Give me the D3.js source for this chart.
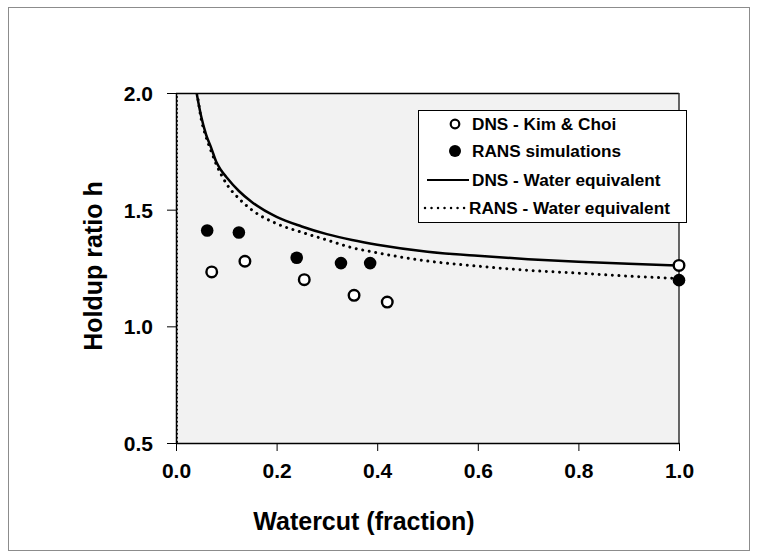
<!DOCTYPE html>
<html>
<head>
<meta charset="utf-8">
<script src="https://cdn.jsdelivr.net/npm/d3@7"></script>
<style>
  html, body { margin: 0; padding: 0; background: #ffffff; }
  svg { display: block; }
  text { font-family: "Liberation Sans", Arial, Helvetica, sans-serif; font-weight: bold; fill: #000; }
</style>
</head>
<body>
<svg id="chart" width="758" height="558"></svg>
<script>
// ---- data ----
const dnsKimChoiX = [0.071, 0.137, 0.255, 0.354, 0.420, 1.0];
const dnsKimChoiH = [1.233, 1.279, 1.200, 1.133, 1.104, 1.261];

const ransSimX = [0.062, 0.125, 0.240, 0.328, 0.386, 1.0];
const ransSimH = [1.411, 1.402, 1.294, 1.271, 1.271, 1.198];

const dnsEqX = [0.041, 0.05, 0.06, 0.07, 0.08, 0.09, 0.10, 0.125, 0.15, 0.2, 0.25, 0.3, 0.35, 0.4, 0.5, 0.6, 0.7, 0.8, 0.9, 1.0];
const dnsEqH = [2.00, 1.90, 1.82, 1.765, 1.705, 1.668, 1.64, 1.58, 1.534, 1.469, 1.428, 1.395, 1.37, 1.35, 1.32, 1.302, 1.288, 1.277, 1.268, 1.261];

const ransEqX = [0.042, 0.05, 0.06, 0.07, 0.08, 0.09, 0.10, 0.125, 0.15, 0.2, 0.25, 0.3, 0.35, 0.4, 0.5, 0.6, 0.7, 0.8, 0.9, 1.0];
const ransEqH = [2.00, 1.89, 1.81, 1.75, 1.695, 1.65, 1.612, 1.548, 1.50, 1.44, 1.403, 1.37, 1.337, 1.315, 1.28, 1.258, 1.24, 1.228, 1.215, 1.205];

const xTicks = [0.0, 0.2, 0.4, 0.6, 0.8, 1.0];
const yTicks = [0.5, 1.0, 1.5, 2.0];

const legendLabels = ["DNS - Kim & Choi", "RANS simulations", "DNS - Water equivalent", "RANS - Water equivalent"];
const xTitle = "Watercut (fraction)";
const yTitle = "Holdup ratio h";

// ---- layout ----
const svg = d3.select("#chart");
const plot = { left: 176, right: 679, top: 93, bottom: 443 };

const x = d3.scaleLinear().domain([0, 1]).range([plot.left, plot.right]);
const y = d3.scaleLinear().domain([0.5, 2.0]).range([plot.bottom, plot.top]);

// outer frame
svg.append("rect").attr("x", 8.5).attr("y", 7.5).attr("width", 741).attr("height", 543)
  .attr("fill", "#fff").attr("stroke", "#8c8c8c").attr("stroke-width", 1);

// plot background
svg.append("rect").attr("x", plot.left).attr("y", plot.top)
  .attr("width", plot.right - plot.left).attr("height", plot.bottom - plot.top)
  .attr("fill", "#f2f2f2");

// clip
svg.append("clipPath").attr("id", "clip").append("rect")
  .attr("x", plot.left).attr("y", plot.top)
  .attr("width", plot.right - plot.left).attr("height", plot.bottom - plot.top);

// top and right borders
svg.append("line").attr("x1", plot.left).attr("x2", plot.right).attr("y1", plot.top + 0.5).attr("y2", plot.top + 0.5)
  .attr("stroke", "#000").attr("stroke-width", 1.5);
svg.append("line").attr("x1", plot.right).attr("x2", plot.right).attr("y1", plot.top).attr("y2", plot.bottom)
  .attr("stroke", "#333").attr("stroke-width", 1.5);

// curves
const dnsEq = dnsEqX.map((v, i) => [v, dnsEqH[i]]);
const ransEq = ransEqX.map((v, i) => [v, ransEqH[i]]);
const line = d3.line().x(d => x(d[0])).y(d => y(d[1])).curve(d3.curveMonotoneX);

const curves = svg.append("g").attr("clip-path", "url(#clip)");
// dotted artifact along the left axis (RANS water-equivalent series near x = 0)
curves.append("line").attr("x1", x(0) + 1).attr("x2", x(0) + 1).attr("y1", y(2.0)).attr("y2", y(0.5))
  .attr("stroke", "#000").attr("stroke-width", 2).attr("stroke-dasharray", "0.01,4").attr("stroke-linecap", "round");
curves.append("path").datum(ransEq).attr("d", line)
  .attr("fill", "none").attr("stroke", "#000").attr("stroke-width", 3)
  .attr("stroke-dasharray", "0.01,6.6").attr("stroke-linecap", "round");
curves.append("path").datum(dnsEq).attr("d", line)
  .attr("fill", "none").attr("stroke", "#000").attr("stroke-width", 2.5);

// axes
const xAxis = d3.axisBottom(x).tickValues(xTicks).tickFormat(d3.format(".1f")).tickSize(8).tickSizeOuter(0);
const yAxis = d3.axisLeft(y).tickValues(yTicks).tickFormat(d3.format(".1f")).tickSize(9).tickSizeOuter(0);

const gx = svg.append("g").attr("transform", `translate(0,${plot.bottom})`).call(xAxis);
const gy = svg.append("g").attr("transform", `translate(${plot.left},0)`).call(yAxis);
[gx, gy].forEach(g => {
  g.attr("font-size", null).attr("font-family", null);
  g.select(".domain").attr("stroke", "#000").attr("stroke-width", 1.5);
  g.selectAll(".tick line").attr("stroke", "#000").attr("stroke-width", 1);
  g.selectAll(".tick text").style("font-size", "21px").style("font-weight", "bold")
    .style("font-family", "'Liberation Sans', Arial, sans-serif").attr("fill", "#000");
});
gx.selectAll(".tick text").attr("dy", "0").attr("y", 35);
gy.selectAll(".tick text").attr("x", -23).attr("dy", "0.36em");

// markers
const pts = svg.append("g");
pts.selectAll("circle.rans").data(ransSimX.map((v, i) => [v, ransSimH[i]])).join("circle")
  .attr("class", "rans").attr("cx", d => x(d[0])).attr("cy", d => y(d[1])).attr("r", 6.3).attr("fill", "#000");
pts.selectAll("circle.dns").data(dnsKimChoiX.map((v, i) => [v, dnsKimChoiH[i]])).join("circle")
  .attr("class", "dns").attr("cx", d => x(d[0])).attr("cy", d => y(d[1])).attr("r", 5.3)
  .attr("fill", "#fff").attr("stroke", "#000").attr("stroke-width", 2.4);

// axis titles
svg.append("text").attr("x", 364).attr("y", 530).attr("text-anchor", "middle")
  .style("font-size", "25px").text(xTitle);
svg.append("text").attr("transform", `translate(102,266) rotate(-90)`).attr("text-anchor", "middle")
  .style("font-size", "25px").text(yTitle);

// legend
const lg = svg.append("g");
lg.append("rect").attr("x", 418.5).attr("y", 110.5).attr("width", 268).attr("height", 112)
  .attr("fill", "#fff").attr("stroke", "#000").attr("stroke-width", 1);
const rowY = [124, 151, 180, 208];
lg.append("circle").attr("cx", 455).attr("cy", rowY[0]).attr("r", 4.3).attr("fill", "#fff").attr("stroke", "#000").attr("stroke-width", 2.2);
lg.append("circle").attr("cx", 455).attr("cy", rowY[1]).attr("r", 6).attr("fill", "#000");
lg.append("line").attr("x1", 427).attr("x2", 469).attr("y1", rowY[2]).attr("y2", rowY[2]).attr("stroke", "#000").attr("stroke-width", 2.2);
lg.append("line").attr("x1", 425).attr("x2", 467).attr("y1", rowY[3]).attr("y2", rowY[3]).attr("stroke", "#000").attr("stroke-width", 2.5)
  .attr("stroke-dasharray", "0.01,6.5").attr("stroke-linecap", "round");
lg.selectAll("text.lab").data(legendLabels).join("text").attr("class", "lab")
  .attr("x", (d, i) => i === 3 ? 469 : 472).attr("y", (d, i) => rowY[i]).attr("dy", "0.36em")
  .style("font-size", "17.2px").text(d => d);
</script>
</body>
</html>
